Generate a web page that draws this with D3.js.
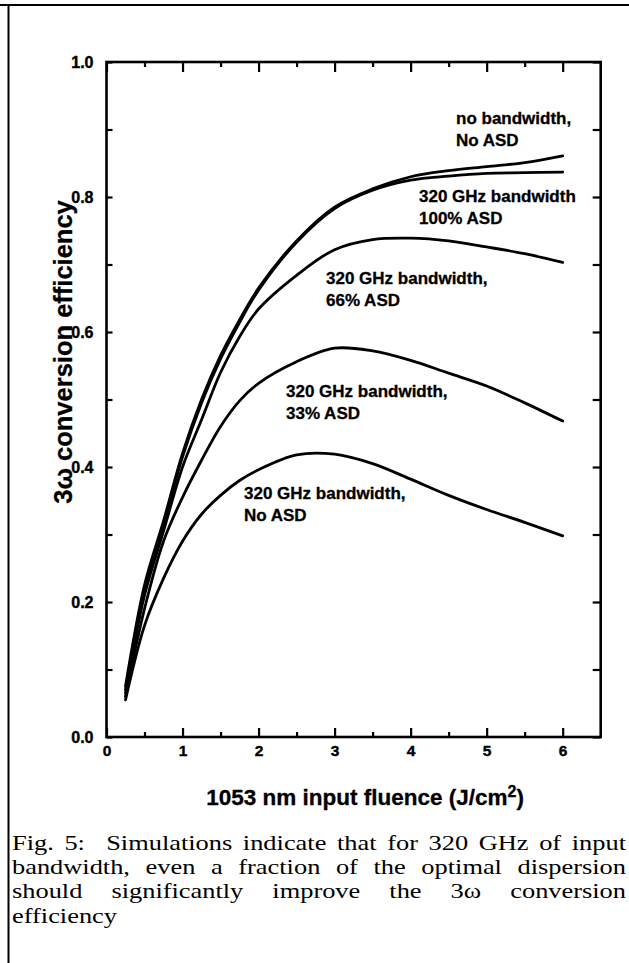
<!DOCTYPE html>
<html>
<head>
<meta charset="utf-8">
<script src="https://cdn.jsdelivr.net/npm/d3@7"></script>
<style>
  html, body { margin: 0; padding: 0; background: #fff; }
  svg { display: block; }
</style>
</head>
<body>
<svg id="chart" width="629" height="963"></svg>
<script>
// ---- data ----
const fluence      = [0.25, 0.5, 0.75, 1.0, 1.25, 1.5, 1.75, 2.0, 2.5, 3.0, 3.5, 4.0, 4.5, 5.0, 5.5, 6.0];
const noBandwidth  = [0.075, 0.225, 0.32, 0.42, 0.50, 0.565, 0.618, 0.665, 0.735, 0.785, 0.812, 0.830, 0.839, 0.845, 0.851, 0.861];
const asd100       = [0.070, 0.220, 0.315, 0.415, 0.495, 0.560, 0.614, 0.662, 0.733, 0.783, 0.810, 0.825, 0.831, 0.835, 0.836, 0.837];
const asd66        = [0.065, 0.210, 0.305, 0.400, 0.470, 0.540, 0.593, 0.634, 0.684, 0.722, 0.737, 0.739, 0.735, 0.726, 0.716, 0.703];
const asd33        = [0.060, 0.190, 0.290, 0.355, 0.410, 0.460, 0.498, 0.524, 0.556, 0.576, 0.572, 0.558, 0.539, 0.520, 0.495, 0.468];
const asdNone      = [0.055, 0.165, 0.235, 0.290, 0.330, 0.358, 0.380, 0.396, 0.418, 0.419, 0.405, 0.382, 0.358, 0.337, 0.318, 0.298];

const seriesLabels = [
  ["no bandwidth,", "No ASD"],
  ["320 GHz bandwidth", "100% ASD"],
  ["320 GHz bandwidth,", "66% ASD"],
  ["320 GHz bandwidth,", "33% ASD"],
  ["320 GHz bandwidth,", "No ASD"]
];
const xTickLabels = [0, 1, 2, 3, 4, 5, 6];
const yTickLabels = [0.0, 0.2, 0.4, 0.6, 0.8, 1.0];
const xAxisTitle = "1053 nm input fluence (J/cm";
const xAxisSup = "2";
const yAxisTitle = "3\u03c9 conversion efficiency";
const captionLines = [
  "Fig. 5:  Simulations indicate that for 320 GHz of input",
  "bandwidth, even a fraction of the optimal dispersion",
  "should significantly improve the 3\u03c9 conversion",
  "efficiency"
];

// ---- layout ----
const svg = d3.select("#chart");
const L = 106.5, R = 600.7, T = 62, B = 737;
const x = d3.scaleLinear().domain([0, 6.5]).range([L, R]);
const y = d3.scaleLinear().domain([0, 1]).range([B, T]);
const sansB = "'Liberation Sans', Arial, Helvetica, sans-serif";
const serif = "'Liberation Serif', 'Times New Roman', Times, serif";

// page frame (top and left rules)
svg.append("line").attr("x1", 0).attr("x2", 629).attr("y1", 5).attr("y2", 5)
  .attr("stroke", "#000").attr("stroke-width", 2);
svg.append("line").attr("x1", 8.5).attr("x2", 8.5).attr("y1", 5).attr("y2", 963)
  .attr("stroke", "#000").attr("stroke-width", 2);

// axes
const halfTicks = d3.range(0, 6.01, 0.5).filter(v => v % 1 !== 0);
const tenthTicks = d3.range(0, 1.001, 0.1).map(v => +v.toFixed(1));

function styleAxis(g) {
  g.select(".domain").remove();
  g.selectAll("line").attr("stroke", "#000").attr("stroke-width", 2.2);
  g.selectAll("text").attr("font-family", sansB).attr("font-weight", "bold").attr("fill", "#000")
    .attr("stroke", "#000").attr("stroke-width", 0.4);
}

// bottom: major with labels
svg.append("g").attr("transform", `translate(0,${B})`)
  .call(d3.axisBottom(x).tickValues(xTickLabels).tickSize(-9).tickPadding(8).tickFormat(d3.format("d")))
  .call(styleAxis).selectAll("text").attr("font-size", 15.5);
svg.append("g").attr("transform", `translate(0,${B})`)
  .call(d3.axisBottom(x).tickValues(halfTicks).tickSize(-5).tickFormat(""))
  .call(styleAxis);
// top
svg.append("g").attr("transform", `translate(0,${T})`)
  .call(d3.axisTop(x).tickValues(xTickLabels).tickSize(-10).tickFormat(""))
  .call(styleAxis);
svg.append("g").attr("transform", `translate(0,${T})`)
  .call(d3.axisTop(x).tickValues(halfTicks).tickSize(-5).tickFormat(""))
  .call(styleAxis);
// left
svg.append("g").attr("transform", `translate(${L},0)`)
  .call(d3.axisLeft(y).tickValues(tenthTicks).tickSize(-6).tickFormat(""))
  .call(styleAxis);
svg.append("g").attr("transform", `translate(${L},0)`)
  .call(d3.axisLeft(y).tickValues(yTickLabels).tickSize(0).tickPadding(13).tickFormat(d3.format(".1f")))
  .call(styleAxis).selectAll("text").attr("font-size", 16);
// right
svg.append("g").attr("transform", `translate(${R},0)`)
  .call(d3.axisRight(y).tickValues(tenthTicks).tickSize(-8).tickFormat(""))
  .call(styleAxis);

// frame
svg.append("rect").attr("x", L).attr("y", T).attr("width", R - L).attr("height", B - T)
  .attr("fill", "none").attr("stroke", "#000").attr("stroke-width", 2.6);

// curves
const line = d3.line().x(d => x(d[0])).y(d => y(d[1])).curve(d3.curveCatmullRom.alpha(0.5));
[noBandwidth, asd100, asd66, asd33, asdNone].forEach(vals => {
  svg.append("path")
    .datum(fluence.map((f, i) => [f, vals[i]]))
    .attr("d", line)
    .attr("fill", "none").attr("stroke", "#000").attr("stroke-width", 2.8)
    .attr("stroke-linejoin", "round").attr("stroke-linecap", "round");
});

// curve labels
const labelPos = [[456, 124], [419, 202], [326, 284], [286, 397], [244, 499]];
seriesLabels.forEach((lines, i) => {
  const t = svg.append("text").attr("font-family", sansB).attr("font-weight", "bold")
    .attr("font-size", 17).attr("fill", "#000").attr("stroke", "#000").attr("stroke-width", 0.3);
  lines.forEach((s, j) => {
    t.append("tspan").attr("x", labelPos[i][0]).attr("y", labelPos[i][1] + j * 21.5).text(s);
  });
});

// axis titles
const xt = svg.append("text").attr("x", 365).attr("y", 805).attr("text-anchor", "middle")
  .attr("font-family", sansB).attr("font-weight", "bold").attr("font-size", 22.5).attr("fill", "#000")
  .attr("stroke", "#000").attr("stroke-width", 0.3);
xt.append("tspan").text(xAxisTitle);
xt.append("tspan").attr("dy", -8).attr("font-size", 16).text(xAxisSup);
xt.append("tspan").attr("dy", 8).text(")");

svg.append("text").attr("transform", `translate(71.5,352) rotate(-90)`).attr("text-anchor", "middle")
  .attr("font-family", sansB).attr("font-weight", "bold").attr("font-size", 25.5).attr("fill", "#000")
  .attr("stroke", "#000").attr("stroke-width", 0.3)
  .text(yAxisTitle);

// caption (slightly widened glyphs, justified with word spacing)
const capW = 614, capScale = 1.2;
captionLines.forEach((s, i) => {
  const t = svg.append("text")
    .attr("transform", `translate(12,${849.5 + i * 24.4}) scale(${capScale},1)`)
    .attr("font-family", serif).attr("font-size", 22).attr("fill", "#000")
    .style("white-space", "pre").text(s);
  if (i < captionLines.length - 1) {
    const w = t.node().getComputedTextLength();
    const target = capW / capScale;
    const gaps = (s.match(/ /g) || []).length;
    if (w < target) t.attr("word-spacing", (target - w) / gaps);
    else t.attr("textLength", target).attr("lengthAdjust", "spacingAndGlyphs");
  }
});
</script>
</body>
</html>
